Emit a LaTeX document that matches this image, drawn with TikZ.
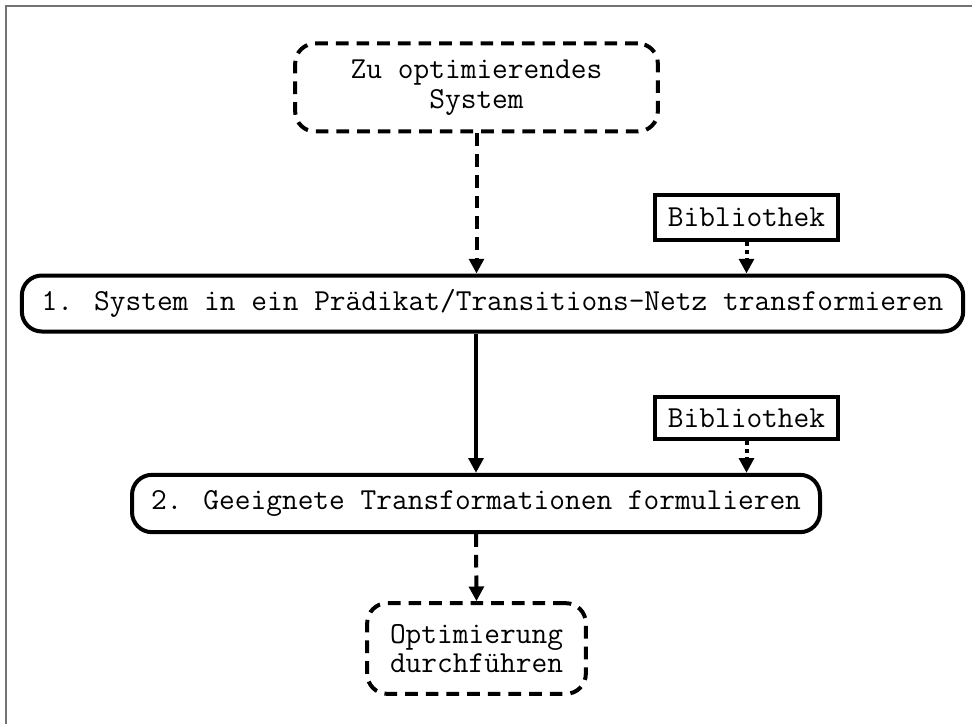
\documentclass[tikz,border=0pt]{standalone}
\usepackage{fontspec}
\usetikzlibrary{arrows.meta}
\begin{document}
\begin{tikzpicture}[x=0.75pt,y=-0.75pt,
  every node/.style={font=\ttfamily\fontsize{22.9}{22}\selectfont, align=center, inner sep=0pt},
  flowbox/.style={draw, line width=3pt, rounded corners=15pt},
  openbox/.style={draw, line width=3pt, rounded corners=15pt, dash pattern=on 9.5pt off 6pt},
  libbox/.style={draw, line width=3pt},
  link/.style={line width=3pt, -{Triangle[length=11pt,width=11pt]}},
  dashlink/.style={link, dash pattern=on 9.5pt off 6pt},
  dotlink/.style={link, dash pattern=on 3pt off 3pt}]
  % page frame
  \useasboundingbox (0,0) rectangle (972,724);
  \draw[draw=black!55, line width=1.2pt] (6,724) -- (6,6) -- (972,6);

  % nodes
  \node[openbox, minimum width=272pt, minimum height=66pt] (sys) at (476.5,87.5)
    {Zu optimierendes\\System};
  \node[libbox, minimum width=137pt, minimum height=34pt] (lib1) at (746.5,217.5) {Bibliothek};
  \node[flowbox, minimum width=706pt, minimum height=42pt] (step1) at (492.5,303.5)
    {1. System in ein Prädikat/Transitions-Netz transformieren};
  \node[libbox, minimum width=137pt, minimum height=32pt] (lib2) at (746.5,418) {Bibliothek};
  \node[flowbox, minimum width=516pt, minimum height=43pt] (step2) at (476,503.5)
    {2. Geeignete Transformationen formulieren};
  \node[openbox, minimum width=164pt, minimum height=68pt] (opt) at (476.5,648.5)
    {Optimierung\\durchführen};

  % connectors
  \draw[dashlink] (sys.south) -- (sys.south |- step1.north);
  \draw[dotlink] (lib1.south) -- (lib1.south |- step1.north);
  \draw[link] (step2.north |- step1.south) -- (step2.north);
  \draw[dotlink] (lib2.south) -- (lib2.south |- step2.north);
  \draw[dashlink] (step2.south) -- (opt.north);
\end{tikzpicture}
\end{document}
